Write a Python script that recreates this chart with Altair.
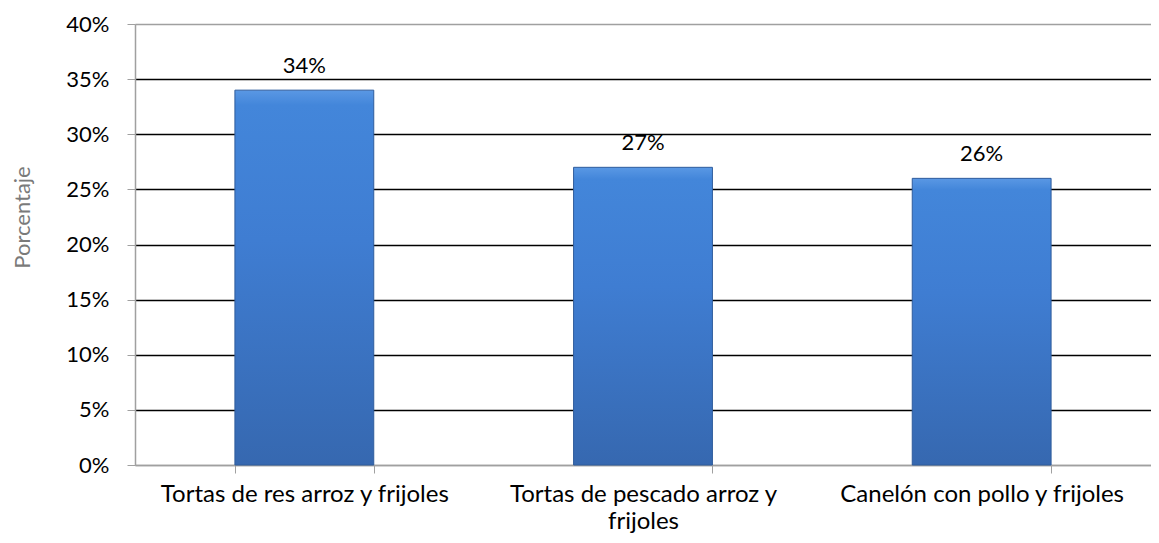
import altair as alt
import pandas as pd

categories = ["Tortas de res arroz y frijoles", "Tortas de pescado arroz y frijoles", "Canelón con pollo y frijoles"]
values = [0.34, 0.27, 0.26]
labels = ["34%", "27%", "26%"]

df = pd.DataFrame({"cat": categories, "val": values, "lab": labels})

FONT = "Lato"

grad = alt.Gradient(
    gradient="linear",
    x1=0, x2=0, y1=0, y2=1,
    stops=[
        alt.GradientStop(color="#5a98e4", offset=0),
        alt.GradientStop(color="#4386da", offset=0.04),
        alt.GradientStop(color="#3f7dd2", offset=0.4),
        alt.GradientStop(color="#3668b0", offset=1),
    ],
)

x = alt.X(
    "cat:N",
    sort=categories,
    title=None,
    scale=alt.Scale(paddingInner=0.59, paddingOuter=0.295),
    axis=alt.Axis(
        labelAngle=0,
        labelFont=FONT,
        labelFontSize=24,
        labelColor="black",
        labelPadding=9,
        labelLineHeight=27,
        tickBand="extent",
        tickColor="#a0a0a0",
        tickSize=8,
        domainColor="#a0a0a0",
        domainWidth=1.5,
        labelLimit=500,
        labelExpr="datum.label == 'Tortas de pescado arroz y frijoles' ? ['Tortas de pescado arroz y', 'frijoles'] : datum.label",
    ),
)

y = alt.Y(
    "val:Q",
    title="Porcentaje",
    scale=alt.Scale(domain=[0, 0.4]),
    axis=alt.Axis(
        format=".0%",
        values=[0, 0.05, 0.1, 0.15, 0.2, 0.25, 0.3, 0.35, 0.4],
        labelFont=FONT,
        labelFontSize=22,
        labelColor="black",
        labelPadding=18,
        tickColor="#a0a0a0",
        tickSize=8,
        domainColor="#a0a0a0",
        domainWidth=1.5,
        grid=True,
        gridColor={"expr": "datum.value >= 0.4 || datum.value == 0 ? '#a0a0a0' : 'black'"},
        gridWidth=1.3,
        titleFont=FONT,
        titleFontSize=22,
        titleFontWeight="normal",
        titleColor="#7a7a7a",
        titlePadding=31,
        titleY=193,
    ),
)

bars = alt.Chart(df).mark_bar(color=grad, stroke="#2f5c9c", strokeWidth=1).encode(x=x, y=y)

text = alt.Chart(df).mark_text(dy=-24, font=FONT, fontSize=22, color="black").encode(
    x=alt.X("cat:N", sort=categories), y="val:Q", text="lab:N"
)

chart = (
    alt.layer(bars, text)
    .properties(
        width=1016,
        height=441,
        autosize=alt.AutoSizeParams(type="none"),
        padding={"left": 127, "top": 16, "right": 0, "bottom": 70},
    )
    .configure_view(stroke=None)
    .configure(background="white")
)

chart.save("out.html", embed_options={"renderer": "svg", "actions": False})
